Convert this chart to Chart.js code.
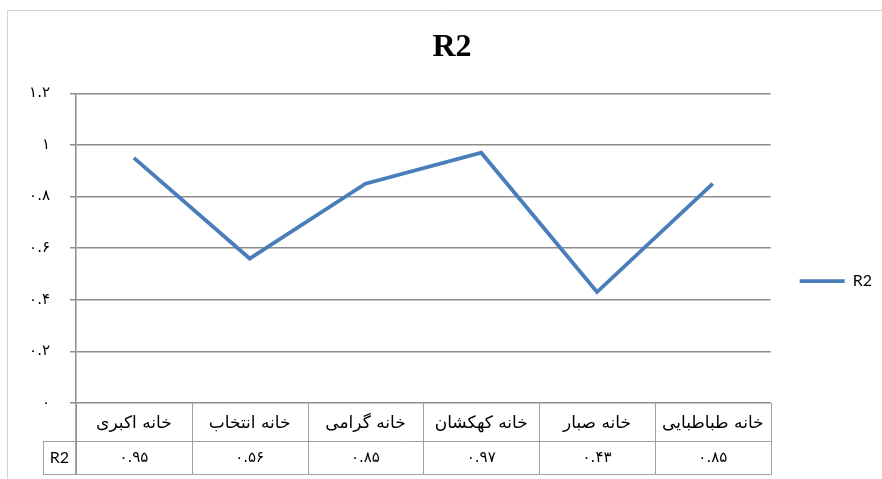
<!DOCTYPE html>
<html>
<head>
<meta charset="utf-8">
<script src="https://cdn.jsdelivr.net/npm/chart.js@4"></script>
<style>
  html, body { margin: 0; padding: 0; background: #fff; }
  #wrap { width: 882px; height: 479px; }
</style>
</head>
<body>
<div id="wrap"><canvas id="chart" width="882" height="479"></canvas></div>
<script>
// data
let categories = ['خانه اکبری', 'خانه انتخاب', 'خانه گرامی', 'خانه کهکشان', 'خانه صبار', 'خانه طباطبایی'];
let r2Values = [0.95, 0.56, 0.85, 0.97, 0.43, 0.85];
let seriesName = 'R2';

let lineBlue = '#4a7ebb';
let gridGray = '#8c8c8c';
let tableGray = '#a0a0a0';
let faFont = 'DejaVu Sans';

// western digits -> persian digits
function toFa(s) {
    return String(s).replace(/\d/g, d => '۰۱۲۳۴۵۶۷۸۹'[d]);
}

function yTickLabel(v) {
    let s = (Math.round(v * 10) / 10).toString();
    return toFa(s);
}

// outer frame of the picture (top and left edge only, it is cropped)
let framePlugin = {
    id: 'frame',
    beforeDraw: function(chart) {
        let ctx = chart.ctx;
        ctx.save();
        ctx.strokeStyle = '#d4d4d4';
        ctx.lineWidth = 1;
        ctx.beginPath();
        ctx.moveTo(7.5, chart.height);
        ctx.lineTo(7.5, 10.5);
        ctx.lineTo(chart.width, 10.5);
        ctx.stroke();
        ctx.restore();
    }
};

// excel style data table under the x axis
let dataTablePlugin = {
    id: 'dataTable',
    afterDraw: function(chart) {
        let ctx = chart.ctx;
        let x = chart.scales.x;
        let top = x.top;
        let bottom = x.bottom;
        let rowSplit = top + 38;
        let keyLeft = 43;
        let step = (x.right - x.left) / categories.length;

        ctx.save();
        ctx.strokeStyle = tableGray;
        ctx.lineWidth = 1;
        ctx.beginPath();
        // vertical cell borders
        for (let i = 0; i <= categories.length; i++) {
            let px = Math.round(x.left + i * step) + 0.5;
            ctx.moveTo(px, top);
            ctx.lineTo(px, bottom);
        }
        // key cell
        ctx.moveTo(keyLeft + 0.5, rowSplit);
        ctx.lineTo(keyLeft + 0.5, bottom);
        // horizontal rows
        ctx.moveTo(keyLeft, rowSplit + 0.5);
        ctx.lineTo(x.right, rowSplit + 0.5);
        ctx.moveTo(keyLeft, bottom - 0.5);
        ctx.lineTo(x.right, bottom - 0.5);
        ctx.stroke();

        // y axis line continues through the table
        ctx.strokeStyle = gridGray;
        ctx.lineWidth = 1.5;
        ctx.beginPath();
        ctx.moveTo(x.left, top);
        ctx.lineTo(x.left, bottom);
        ctx.stroke();

        ctx.fillStyle = '#000';
        ctx.textAlign = 'center';
        ctx.textBaseline = 'middle';
        let valueY = (rowSplit + bottom) / 2;
        ctx.font = '16px Lato';
        ctx.fillText(seriesName, (keyLeft + x.left) / 2, valueY);

        ctx.font = '15px "' + faFont + '"';
        for (let i = 0; i < r2Values.length; i++) {
            ctx.fillText(toFa(r2Values[i].toFixed(2)), x.getPixelForValue(i), valueY);
        }
        ctx.restore();
    }
};

let data = {
    labels: categories,
    datasets: [{
        label: seriesName,
        data: r2Values,
        borderColor: lineBlue,
        backgroundColor: lineBlue,
        borderWidth: 3.8,
        pointRadius: 0,
        pointHoverRadius: 0,
        tension: 0
    }]
};

let config = {
    type: 'line',
    data: data,
    options: {
        responsive: false,
        animation: false,
        layout: {
            padding: { left: 22, right: 0, top: 0, bottom: 4 }
        },
        plugins: {
            title: {
                display: true,
                text: 'R2',
                color: '#000',
                font: { family: 'Liberation Serif', size: 32, weight: 'bold' },
                padding: { top: 29, bottom: 26 }
            },
            legend: {
                position: 'right',
                fullSize: false,
                // empty title only pushes the key down to the middle of the plot
                title: {
                    display: true,
                    text: ' ',
                    font: { size: 10, lineHeight: 1 },
                    padding: { top: 56, bottom: 0 }
                },
                labels: {
                    usePointStyle: true,
                    pointStyle: 'line',
                    pointStyleWidth: 45,
                    padding: 29,
                    color: '#000',
                    font: { family: 'Lato', size: 16 }
                }
            },
            tooltip: { enabled: false }
        },
        scales: {
            x: {
                offset: true,
                grid: { display: false, drawTicks: false },
                border: { display: false },
                ticks: {
                    color: '#000',
                    font: { family: faFont, size: 17 },
                    padding: 10,
                    maxRotation: 0,
                    autoSkip: false
                },
                afterFit: function(scale) {
                    scale.height = 72;
                }
            },
            y: {
                min: 0,
                max: 1.2,
                grid: { color: gridGray, lineWidth: 1.5, tickLength: 6 },
                border: { color: gridGray, width: 1.5 },
                ticks: {
                    stepSize: 0.2,
                    color: '#000',
                    font: { family: faFont, size: 15 },
                    padding: 20,
                    callback: function(value) { return yTickLabel(value); }
                },
                afterFit: function(scale) {
                    scale.width = 54;
                }
            }
        }
    },
    plugins: [framePlugin, dataTablePlugin]
};

let myChart = new Chart(document.getElementById('chart'), config);
</script>
</body>
</html>
